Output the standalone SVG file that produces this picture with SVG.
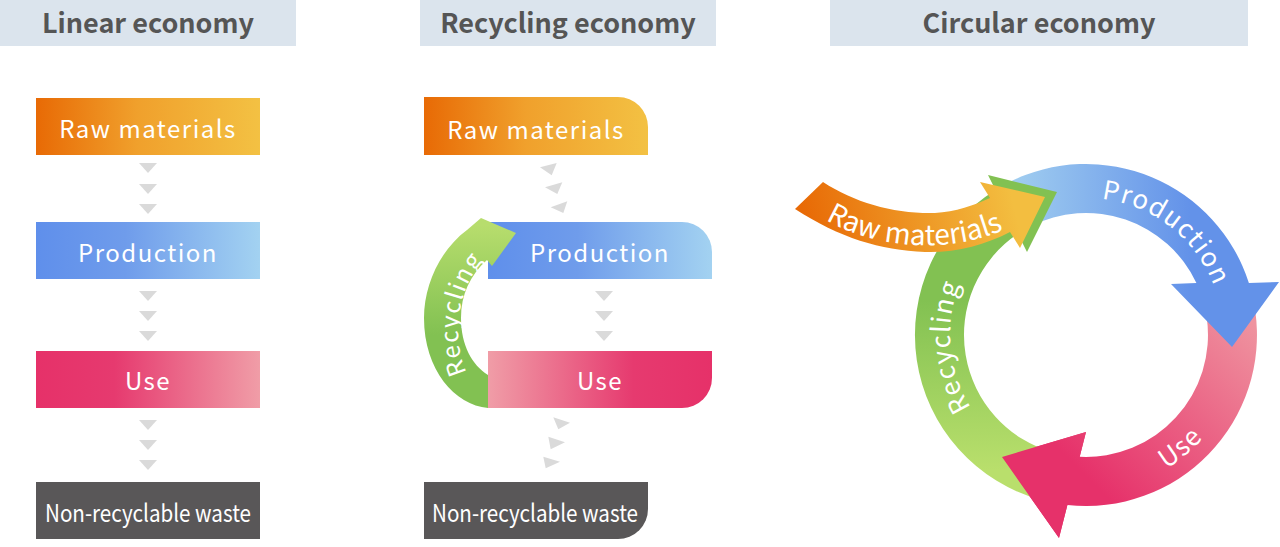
<svg xmlns="http://www.w3.org/2000/svg" width="1280" height="547" viewBox="0 0 1280 547">
<style>
.hdr{fill:#dbe4ed}
.htxt{font-family:"Noto Sans CJK JP","Noto Sans",sans-serif;font-weight:bold;font-size:27px;fill:#555555;text-anchor:middle}
.lbl{font-family:"Noto Sans CJK JP","Noto Sans",sans-serif;font-size:24px;fill:#ffffff;text-anchor:middle;letter-spacing:1.5px}
.wst{font-family:"Noto Sans CJK JP","Noto Sans",sans-serif;font-size:24px;fill:#ffffff;text-anchor:middle}
.arc{font-family:"Noto Sans CJK JP","Noto Sans",sans-serif;font-size:26px;fill:#ffffff;text-anchor:middle;letter-spacing:1.5px}
.tri{fill:#dadada}
.waste{fill:#595758}
</style>
<defs>
<linearGradient id="gRaw" x1="0" y1="0" x2="1" y2="0">
<stop offset="0" stop-color="#e86a05"/><stop offset="0.45" stop-color="#f0a02c"/><stop offset="1" stop-color="#f3c143"/>
</linearGradient>
<linearGradient id="gProd" x1="0" y1="0" x2="1" y2="0">
<stop offset="0" stop-color="#5f8feb"/><stop offset="0.4" stop-color="#6f9ceb"/><stop offset="1" stop-color="#a3d2f1"/>
</linearGradient>
<linearGradient id="gUseL" x1="0" y1="0" x2="1" y2="0">
<stop offset="0" stop-color="#e63169"/><stop offset="0.35" stop-color="#e63a6f"/><stop offset="1" stop-color="#f09da7"/>
</linearGradient>
<linearGradient id="gUseR" x1="0" y1="0" x2="1" y2="0">
<stop offset="0" stop-color="#f09da7"/><stop offset="0.65" stop-color="#e63a6f"/><stop offset="1" stop-color="#e63169"/>
</linearGradient>
<linearGradient id="gRecSmall" gradientUnits="userSpaceOnUse" x1="0" y1="225" x2="0" y2="335">
<stop offset="0" stop-color="#b7dd6d"/><stop offset="1" stop-color="#82c152"/>
</linearGradient>
<linearGradient id="gBlue" gradientUnits="userSpaceOnUse" x1="1005" y1="0" x2="1190" y2="0">
<stop offset="0" stop-color="#a3d0f0"/><stop offset="1" stop-color="#6392e9"/>
</linearGradient>
<linearGradient id="gPink" gradientUnits="userSpaceOnUse" x1="1250" y1="320" x2="1090" y2="480">
<stop offset="0" stop-color="#ef939f"/><stop offset="1" stop-color="#e6316a"/>
</linearGradient>
<linearGradient id="gGreen" gradientUnits="userSpaceOnUse" x1="0" y1="470" x2="0" y2="300">
<stop offset="0" stop-color="#b9df6c"/><stop offset="1" stop-color="#82c152"/>
</linearGradient>
<linearGradient id="gOrange" gradientUnits="userSpaceOnUse" x1="810" y1="240" x2="1010" y2="190">
<stop offset="0" stop-color="#e86a06"/><stop offset="1" stop-color="#f3be40"/>
</linearGradient>
<path id="tpRaw" d="M815,213 C860,246 950,260 1015,224"/>
<path id="tpProd" d="M1069.3,199 A137,137 0 0 1 1222,318.3"/>
<path id="tpRec" d="M998.6,439.2 A136,136 0 0 1 981.8,247.6"/>
<path id="tpUse" d="M1113.1,488.6 A156,156 0 0 0 1232.6,388.4"/>
<path id="tpRecSmall" d="M470,378 C452,350 452,290 488,255"/>
</defs>

<!-- Headers -->
<g id="header-linear">
<rect class="hdr" x="0" y="0" width="296" height="46"/>
<text class="htxt" x="148" y="33">Linear economy</text>
</g>
<g id="header-recycling">
<rect class="hdr" x="420" y="0" width="296" height="46"/>
<text class="htxt" x="568" y="33">Recycling economy</text>
</g>
<g id="header-circular">
<rect class="hdr" x="830" y="0" width="418" height="46"/>
<text class="htxt" x="1039" y="33">Circular economy</text>
</g>

<!-- Linear economy -->
<g id="lin-raw">
<rect x="36" y="98" width="224" height="57" fill="url(#gRaw)"/>
<text class="lbl" x="148" y="138">Raw materials</text>
</g>
<g id="lin-prod">
<rect x="36" y="222" width="224" height="57" fill="url(#gProd)"/>
<text class="lbl" x="148" y="262">Production</text>
</g>
<g id="lin-use">
<rect x="36" y="351" width="224" height="57" fill="url(#gUseL)"/>
<text class="lbl" x="148" y="390">Use</text>
</g>
<g id="lin-waste">
<rect class="waste" x="36" y="482" width="224" height="57"/>
<text class="wst" x="148" y="522" textLength="206" lengthAdjust="spacingAndGlyphs">Non-recyclable waste</text>
</g>

<!-- Recycling economy -->
<g id="rec-raw">
<path d="M424,97 H618 A30,30 0 0 1 648,127 V155 H424 Z" fill="url(#gRaw)"/>
<text class="lbl" x="536" y="139">Raw materials</text>
</g>
<g id="rec-prod">
<path d="M488,222 H682 A30,30 0 0 1 712,252 V279 H488 Z" fill="url(#gProd)"/>
<text class="lbl" x="600" y="262">Production</text>
</g>
<g id="rec-recycling">
<path d="M494,408 L488,408 C455,405 424,370 424,318 C424,285 440,250 467,230 L481,218 L516,233 L492,266 L487,260 C470,275 461,295 461,318 C461,345 472,365 488,375 L494,375 Z" fill="url(#gRecSmall)"/>
<text class="arc" style="font-size:24px"><textPath href="#tpRecSmall" startOffset="50%">Recycling</textPath></text>
</g>
<g id="rec-use">
<path d="M488,351 H712 V378 A30,30 0 0 1 682,408 H488 Z" fill="url(#gUseR)"/>
<text class="lbl" x="600" y="390">Use</text>
</g>
<g id="rec-waste">
<path class="waste" d="M424,482 H648 V509 A30,30 0 0 1 618,539 H424 Z"/>
<text class="wst" x="535" y="522" textLength="206" lengthAdjust="spacingAndGlyphs">Non-recyclable waste</text>
</g>

<!-- Circular economy -->
<g id="circ-use">
<path d="M1255.3,311.2 A171,171 0 0 1 1067.4,505 L1059,538 L1002,457 L1086,432 L1079.7,456.8 A122,122 0 0 0 1206.8,318 Z" fill="url(#gPink)"/>
</g>
<g id="circ-production">
<path d="M1008.4,182.6 A171,171 0 0 1 1248.9,283 L1279,282 L1232,347 L1171,284 L1196.4,283 A122,122 0 0 0 1030.6,226.3 Z" fill="url(#gBlue)"/>
<text class="arc"><textPath href="#tpProd" startOffset="50%">Production</textPath></text>
</g>
<g id="circ-recycling">
<path d="M1041.7,500.2 A171,171 0 0 1 995.5,189.9 L988,175 L1057,192 L1027,252 L1017.8,233.8 A122,122 0 0 0 1054.4,452.8 Z" fill="url(#gGreen)"/>
<text class="arc"><textPath href="#tpRec" startOffset="50%">Recycling</textPath></text>
</g>
<g id="circ-use-head">
<polygon points="1059,538 1002,457 1086,432 1079.7,456.8 1067.4,505" fill="url(#gPink)"/>
<text class="arc"><textPath href="#tpUse" startOffset="50%">Use</textPath></text>
</g>
<g id="circ-raw">
<path d="M795,209 L823,182 C855,203 895,214 935,213 C955,212 975,205 990,198 L980,182 L1045,197 L1020,248 L1010,232 C985,245 955,253 925,252 C880,250 840,238 795,209 Z" fill="url(#gOrange)"/>
<text class="arc" style="font-size:28px;letter-spacing:0"><textPath href="#tpRaw" startOffset="50%">Raw materials</textPath></text>
</g>

<!-- Connectors -->
<g id="connectors">
<polygon class="tri" points="139,163 157,163 148,173"/>
<polygon class="tri" points="139,184 157,184 148,194"/>
<polygon class="tri" points="139,204 157,204 148,214"/>
<polygon class="tri" points="139,291 157,291 148,301"/>
<polygon class="tri" points="139,311 157,311 148,321"/>
<polygon class="tri" points="139,331 157,331 148,341"/>
<polygon class="tri" points="139,420 157,420 148,430"/>
<polygon class="tri" points="139,440 157,440 148,450"/>
<polygon class="tri" points="139,460 157,460 148,470"/>
<polygon class="tri" points="540,167.3 556.7,163 551.7,175.3"/>
<polygon class="tri" points="545,187.3 562.3,182.3 557.3,194"/>
<polygon class="tri" points="550.7,207.3 567.3,201.3 563.3,213"/>
<polygon class="tri" points="595,291 613,291 604,301"/>
<polygon class="tri" points="595,311 613,311 604,321"/>
<polygon class="tri" points="595,331 613,331 604,341"/>
<polygon class="tri" points="553.3,417.3 570,422.7 558.3,429.3"/>
<polygon class="tri" points="548.3,436.7 565,442.3 550.7,449.3"/>
<polygon class="tri" points="543.3,456.7 560,461.7 545.7,468.3"/>
</g>
</svg>
